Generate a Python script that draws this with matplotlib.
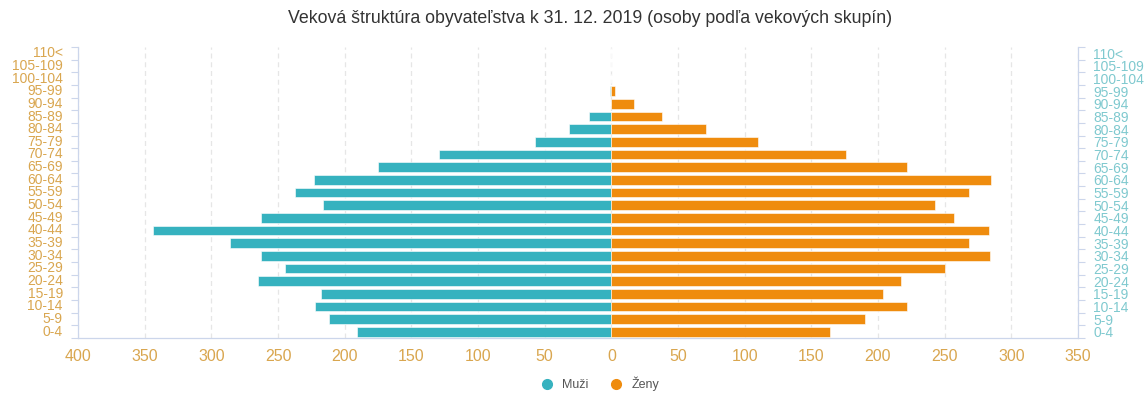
"""Age pyramid: population by five-year age groups, men left, women right."""

import matplotlib

matplotlib.use("Agg")
from matplotlib import pyplot as plt
from matplotlib.lines import Line2D
from matplotlib.ticker import FuncFormatter
import numpy as np

# Age groups from youngest to oldest.
age_groups = [
    "0-4", "5-9", "10-14", "15-19", "20-24", "25-29", "30-34", "35-39",
    "40-44", "45-49", "50-54", "55-59", "60-64", "65-69", "70-74", "75-79",
    "80-84", "85-89", "90-94", "95-99", "100-104", "105-109", "110<",
]
men = [191, 212, 222, 218, 265, 245, 263, 286, 344, 263, 216, 237,
       223, 175, 129, 57, 32, 17, 0, 1, 0, 0, 0]
women = [164, 190, 222, 204, 217, 250, 284, 268, 283, 257, 243, 268,
         285, 222, 176, 110, 71, 38, 17, 3, 0, 0, 0]

x_ticks = list(range(-400, 351, 50))

TEAL = "#36b2bf"
ORANGE = "#ef8c0e"
GOLD = "#d9a64f"
LIGHT_TEAL = "#7fc9cf"
AXIS = "#ccd6eb"

plt.rcParams["font.family"] = ["Liberation Sans", "DejaVu Sans"]

fig = plt.figure(figsize=(11.48, 3.94), dpi=100)
ax = fig.add_axes([0.068, 0.142, 0.871, 0.739])

y = np.arange(len(age_groups))
ax.barh(y, -np.array(men), height=0.76, color=TEAL, edgecolor="white",
        linewidth=0.4, zorder=3)
ax.barh(y, women, height=0.76, color=ORANGE, edgecolor="white",
        linewidth=0.4, zorder=3)

ax.set_xlim(-400, 350)
ax.set_ylim(-0.5, len(age_groups) - 0.5)

ax.set_xticks(x_ticks)
ax.xaxis.set_major_formatter(FuncFormatter(lambda v, _: f"{abs(int(v))}"))
ax.tick_params(axis="x", length=0, pad=8, labelsize=11.5, labelcolor=GOLD)
ax.grid(axis="x", color="#e6e6e6", linestyle=(0, (4, 3)), linewidth=0.9,
        zorder=0)

# Category labels on the left, tick marks between categories.
ax.set_yticks(y)
ax.set_yticklabels(age_groups)
ax.set_yticks(np.arange(-0.5, len(age_groups), 1), minor=True)
ax.tick_params(axis="y", which="major", length=0, pad=11, labelsize=10,
               labelcolor=GOLD)
ax.tick_params(axis="y", which="minor", length=5, color=AXIS, width=0.8)
for lbl in ax.get_yticklabels():
    lbl.set_verticalalignment("center")

for side in ("top", "right"):
    ax.spines[side].set_visible(False)
for side in ("left", "bottom"):
    ax.spines[side].set_color(AXIS)
    ax.spines[side].set_linewidth(0.9)

# Same categories repeated on the right.
ax2 = ax.twinx()
ax2.set_ylim(ax.get_ylim())
ax2.set_yticks(y)
ax2.set_yticklabels(age_groups)
ax2.set_yticks(np.arange(-0.5, len(age_groups), 1), minor=True)
ax2.tick_params(axis="y", which="major", length=0, pad=11, labelsize=10,
                labelcolor=LIGHT_TEAL)
ax2.tick_params(axis="y", which="minor", length=5, color=AXIS, width=0.8)
for side in ("top", "left", "bottom"):
    ax2.spines[side].set_visible(False)
ax2.spines["right"].set_color(AXIS)
ax2.spines["right"].set_linewidth(0.9)

fig.text(0.514, 0.953, "Veková štruktúra obyvateľstva k 31. 12. 2019 "
         "(osoby podľa vekových skupín)", ha="center", va="center",
         fontsize=12.8, color="#333333")

handles = [
    Line2D([], [], marker="o", linestyle="none", markersize=7,
           markerfacecolor=TEAL, markeredgecolor=TEAL, label="Muži"),
    Line2D([], [], marker="o", linestyle="none", markersize=7,
           markerfacecolor=ORANGE, markeredgecolor=ORANGE, label="Ženy"),
]
fig.legend(handles=handles, loc="center", bbox_to_anchor=(0.52, 0.025),
           ncol=2, frameon=False, fontsize=9, handletextpad=0.2,
           columnspacing=1.2, labelcolor="#555555")

fig.savefig("out.png", dpi=100)
